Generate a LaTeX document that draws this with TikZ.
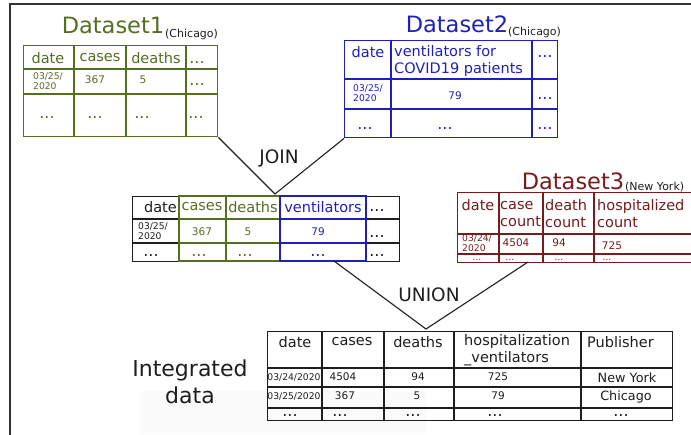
\documentclass[tikz,border=0pt]{standalone}
\usepackage{fontspec}
\setmainfont{DejaVu Sans}
\definecolor{grn}{RGB}{84,110,34}
\definecolor{blu}{RGB}{32,32,185}
\definecolor{mar}{RGB}{118,28,28}
\definecolor{ink}{RGB}{30,30,30}
\begin{document}
\begin{tikzpicture}[x=1pt,y=-1pt,
  tbl/.style={draw, line width=1.4pt, inner sep=0pt, anchor=north west},
  grid/.style={line width=1.4pt},
  ttl/.style={font=\fontsize{22.5}{24}\selectfont, inner sep=0pt},
  sub/.style={font=\fontsize{11}{12}\selectfont, inner sep=0pt, text=ink},
  hd/.style={font=\fontsize{14.5}{17}\selectfont, inner sep=0pt},
  hdl/.style={hd, anchor=west, align=left},
  num/.style={font=\fontsize{10.5}{12}\selectfont, inner sep=0pt},
  pub/.style={font=\fontsize{12.8}{14}\selectfont, inner sep=0pt},
  dt/.style={font=\fontsize{9.2}{10}\selectfont, inner sep=0pt, align=left},
  dots/.style={font=\fontsize{16}{16}\selectfont, inner sep=0pt, anchor=base},
  tiny/.style={font=\fontsize{9}{9}\selectfont, inner sep=0pt, anchor=base},
  op/.style={font=\fontsize{18.5}{20}\selectfont, inner sep=0pt, text=ink},
  link/.style={line width=1.1pt, ink}]
\useasboundingbox (0,0) rectangle (691,434);
\fill[white] (0,0) rectangle (691,434);
% faint backdrop under the result label
\fill[black!1.5] (140,391) rectangle (427,434);
% outer frame
\draw[line width=2pt, black!80] (10,440) -- (10,4) -- (700,4);

% ---------- Dataset1 ----------
\node[ttl, text=grn, anchor=base] (d1t) at (113,33) {Dataset1};
\node[sub, anchor=base west] (d1s) at (165,37) {(Chicago)};
\node[tbl, draw=grn, minimum width=194pt, minimum height=91pt] (t1) at (23,45) {};
\draw[grid, grn] (23,69) -- (217,69) (23,94) -- (217,94)
  (74,45) -- (74,136) (126,45) -- (126,136) (186,45) -- (186,136);
\begin{scope}[text=grn]
\node[hd] (t1h1) at (48,58) {date};
\node[hd] (t1h2) at (100,58) {cases};
\node[hd] (t1h3) at (156,58) {deaths};
\node[dots] (t1h4) at (197,63) {...};
\node[dt] (t1r1) at (48,81) {03/25/\\2020};
\node[num] (t1r2) at (95,80) {367};
\node[num] (t1r3) at (143,80) {5};
\node[dots] (t1r4) at (197,85) {...};
\node[dots] (t1e1) at (47,118) {...};
\node[dots] (t1e2) at (95,118) {...};
\node[dots] (t1e3) at (142,118) {...};
\node[dots] (t1e4) at (196,118) {...};
\end{scope}

% ---------- Dataset2 ----------
\node[ttl, text=blu, anchor=base] (d2t) at (457,32) {Dataset2};
\node[sub, anchor=base west] (d2s) at (508,35) {(Chicago)};
\node[tbl, draw=blu, minimum width=213pt, minimum height=97pt] (t2) at (344,40) {};
\draw[grid, blu] (344,79) -- (557,79) (344,109) -- (557,109)
  (391,40) -- (391,137) (532,40) -- (532,137);
\begin{scope}[text=blu]
\node[hd] (t2h1) at (368,52) {date};
\node[hdl] (t2h2) at (394,61) {ventilators for\\COVID19 patients};
\node[dots] (t2h3) at (545,57) {...};
\node[dt] (t2r1) at (368,93) {03/25/\\2020};
\node[num] (t2r2) at (455,96) {79};
\node[dots] (t2r3) at (545,99) {...};
\node[dots] (t2e1) at (365,129) {...};
\node[dots] (t2e2) at (445,129) {...};
\node[dots] (t2e3) at (545,129) {...};
\end{scope}

% ---------- join ----------
\coordinate (jn) at (275,194);
\draw[link] (t1.south east) -- (jn) -- (t2.south west);
\node[op] (join) at (279,158) {JOIN};

% ---------- joined table ----------
\node[tbl, draw=ink, minimum width=267pt, minimum height=65pt] (tj) at (132,196) {};
\draw[grid, ink] (132,219) -- (179,219) (132,243) -- (179,243)
  (366,219) -- (399,219) (366,243) -- (399,243);
\draw[grid, grn] (179,196) rectangle (280,261) (179,219) -- (280,219)
  (179,243) -- (280,243) (226,196) -- (226,261);
\draw[grid, blu] (280,196) rectangle (366,261) (280,219) -- (366,219)
  (280,243) -- (366,243);
\node[hd, text=ink, anchor=east] (tjh1) at (177,207) {date};
\node[hd, text=grn] (tjh2) at (202,207) {cases};
\node[hd, text=grn] (tjh3) at (253,207) {deaths};
\node[hd, text=blu] (tjh4) at (323,207) {ventilators};
\node[dots, text=ink] (tjh5) at (377,211) {...};
\node[dt, text=ink] (tjr1) at (153,231) {03/25/\\2020};
\node[num, text=grn] (tjr2) at (202,232) {367};
\node[num, text=grn] (tjr3) at (248,232) {5};
\node[num, text=blu] (tjr4) at (318,232) {79};
\node[dots, text=ink] (tjr5) at (377,237) {...};
\node[dots, text=ink] (tje1) at (151,256) {...};
\node[dots, text=grn] (tje2) at (199,256) {...};
\node[dots, text=grn] (tje3) at (245,256) {...};
\node[dots, text=blu] (tje4) at (318,256) {...};
\node[dots, text=ink] (tje5) at (377,256) {...};

% ---------- Dataset3 ----------
\node[ttl, text=mar, anchor=base] (d3t) at (573,189) {Dataset3};
\node[sub, anchor=base west] (d3s) at (625,190) {(New York)};
\node[tbl, draw=mar, minimum width=240pt, minimum height=70pt] (t3) at (457,192) {};
\draw[grid, mar] (457,234) -- (697,234) (457,254) -- (697,254)
  (499,192) -- (499,262) (543,192) -- (543,262) (594,192) -- (594,262);
\begin{scope}[text=mar]
\node[hd] (t3h1) at (478,205) {date};
\node[hdl] (t3h2) at (500,214) {case\\count};
\node[hdl] (t3h3) at (545,214) {death\\count};
\node[hdl] (t3h4) at (597,214) {hospitalized\\count};
\node[dt] (t3r1) at (477,243) {03/24/\\2020};
\node[num] (t3r2) at (516,243) {4504};
\node[num] (t3r3) at (559,243) {94};
\node[num] (t3r4) at (612,246) {725};
\node[tiny] (t3e1) at (477,260) {...};
\node[tiny] (t3e2) at (510,260) {...};
\node[tiny] (t3e3) at (559,260) {...};
\node[tiny] (t3e4) at (607,260) {...};
\end{scope}

% ---------- union ----------
\coordinate (ua) at (334,261);
\coordinate (un) at (426,329);
\coordinate (ub) at (528,262);
\draw[link] (ua) -- (un) -- (ub);
\node[op] (union) at (429,295) {UNION};

% ---------- integrated table ----------
\node[tbl, draw=ink, minimum width=405pt, minimum height=89pt] (ti) at (267,331) {};
\draw[grid, ink] (267,368) -- (672,368) (267,387) -- (672,387) (267,408) -- (672,408)
  (322,331) -- (322,420) (384,331) -- (384,420) (454,331) -- (454,420) (581,331) -- (581,420);
\begin{scope}[text=ink]
\node[hd] (tih1) at (295,342) {date};
\node[hd] (tih2) at (352,342) {cases};
\node[hd] (tih3) at (418,342) {deaths};
\node[hdl] (tih4) at (464,350) {hospitalization\\\_ventilators};
\node[hd, anchor=west] (tih5) at (587,342) {Publisher};
\node[dt] (tia1) at (294,378) {03/24/2020};
\node[num] (tia2) at (343,377) {4504};
\node[num] (tia3) at (418,377) {94};
\node[num] (tia4) at (498,377) {725};
\node[pub] (tia5) at (627,378) {New York};
\node[dt] (tib1) at (294,397) {03/25/2020};
\node[num] (tib2) at (345,396) {367};
\node[num] (tib3) at (417,396) {5};
\node[num] (tib4) at (498,396) {79};
\node[pub] (tib5) at (626,397) {Chicago};
\node[dots] (tic1) at (290,416) {...};
\node[dots] (tic2) at (340,416) {...};
\node[dots] (tic3) at (413,416) {...};
\node[dots] (tic4) at (495,416) {...};
\node[dots] (tic5) at (621,416) {...};
\end{scope}
\node[font=\fontsize{22}{27}\selectfont, align=center, text=ink, inner sep=0pt] (lbl) at (190,382) {Integrated\\data};
\end{tikzpicture}
\end{document}
